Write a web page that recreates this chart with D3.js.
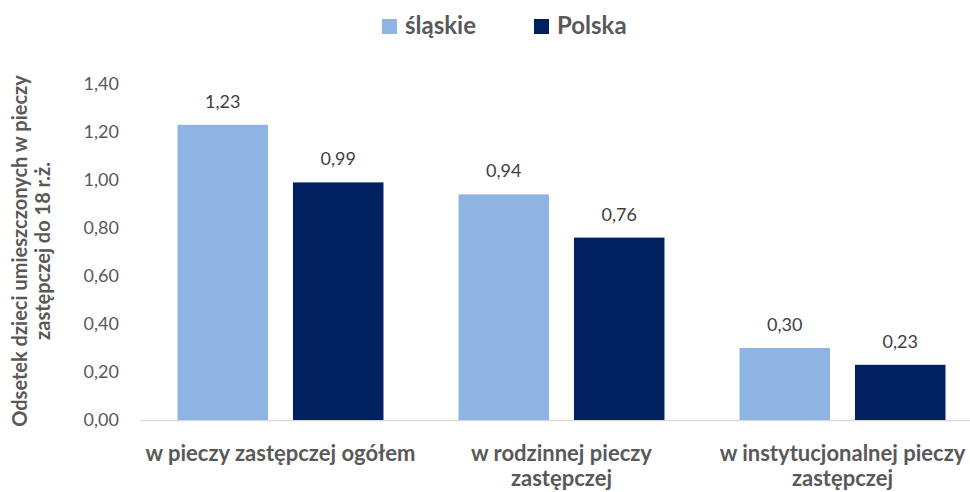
<!DOCTYPE html>
<html><head><meta charset="utf-8">
<script src="https://cdn.jsdelivr.net/npm/d3@7/dist/d3.min.js"></script>
<style>body{margin:0;background:#fff}svg{display:block}text{font-family:Lato,"Open Sans",sans-serif}</style>
</head><body>
<script>
const categories = ["w pieczy zastępczej ogółem", "w rodzinnej pieczy\nzastępczej", "w instytucjonalnej pieczy\nzastępczej"];
const seriesNames = ["śląskie", "Polska"];
const slaskie = [1.23, 0.94, 0.30];
const polska = [0.99, 0.76, 0.23];
const yTicks = [0, 0.2, 0.4, 0.6, 0.8, 1.0, 1.2, 1.4];
const yTitle = ["Odsetek dzieci umieszczonych w pieczy", "zastępczej do 18 r.ż."];
const colors = ["#8EB4E3", "#002060"];

const W = 970, H = 492;
const svg = d3.select("body").append("svg").attr("width", W).attr("height", H);
const fmt = v => d3.format(".2f")(v).replace(".", ",");
const gray = "#595959";

const x0 = d3.scaleBand().domain(categories).range([140, 983]).paddingInner(0).paddingOuter(0);
const x1 = d3.scaleBand().domain(seriesNames).range([0, x0.bandwidth()]).paddingInner(0.216).paddingOuter(0.325);
const y = d3.scaleLinear().domain([0, 1.4]).range([420, 84]);

// y axis labels
const yAxis = d3.axisLeft(y).tickValues(yTicks).tickFormat(fmt).tickSize(0).tickPadding(0);
const ga = svg.append("g").attr("transform", "translate(119,0)").call(yAxis);
ga.select(".domain").remove();
ga.selectAll("text").attr("fill", gray).style("font-size", "18px").style("font-family", "Lato,'Open Sans',sans-serif");

// x baseline
svg.append("line").attr("x1", 140).attr("x2", 970).attr("y1", y(0) + 0.5).attr("y2", y(0) + 0.5)
  .attr("stroke", "#D9D9D9").attr("stroke-width", 1.5);

const data = categories.map((c, i) => ({cat: c, vals: [slaskie[i], polska[i]]}));
const groups = svg.append("g").selectAll("g").data(data).join("g")
  .attr("transform", d => `translate(${x0(d.cat)},0)`);
groups.selectAll("rect").data(d => d.vals.map((v, j) => ({v, s: seriesNames[j], j}))).join("rect")
  .attr("x", d => x1(d.s)).attr("width", x1.bandwidth())
  .attr("y", d => y(d.v)).attr("height", d => y(0) - y(d.v))
  .attr("fill", d => colors[d.j]);
groups.selectAll("text.val").data(d => d.vals.map((v, j) => ({v, s: seriesNames[j], j}))).join("text")
  .attr("class", "val")
  .attr("x", d => x1(d.s) + x1.bandwidth() / 2).attr("y", d => y(d.v) - 17)
  .attr("text-anchor", "middle").attr("fill", "#404040").style("font-size", "18px")
  .text(d => fmt(d.v));

// category labels
groups.append("text").attr("text-anchor", "middle").attr("fill", gray)
  .style("font-size", "22px").style("font-weight", "bold")
  .attr("x", x0.bandwidth() / 2).attr("y", 461)
  .selectAll("tspan").data(d => d.cat.split("\n")).join("tspan")
  .attr("x", x0.bandwidth() / 2).attr("dy", (d, i) => i ? 25 : 0).text(d => d);

// y title
svg.append("text").attr("transform", "translate(0,251) rotate(-90)")
  .attr("text-anchor", "middle").attr("fill", gray)
  .style("font-size", "20px").style("font-weight", "bold")
  .selectAll("tspan").data(yTitle).join("tspan")
  .attr("x", 0).attr("y", (d, i) => 27 + i * 23).text(d => d);

// legend
const legX = [382, 534];
const leg = svg.append("g").selectAll("g").data(seriesNames).join("g")
  .attr("transform", (d, i) => `translate(${legX[i]},19)`);
leg.append("rect").attr("width", 15).attr("height", 15).attr("fill", (d, i) => colors[i]);
leg.append("text").attr("x", 23).attr("y", 15).attr("fill", gray)
  .style("font-size", "24px").style("font-weight", "bold").text(d => d);
</script>
</body></html>
